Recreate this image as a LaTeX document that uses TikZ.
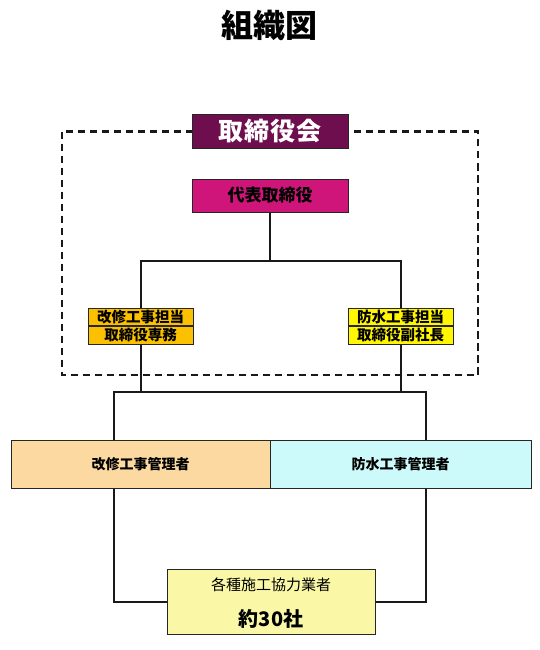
\documentclass[tikz,border=0pt]{standalone}
\usepackage{fontspec}
\setmainfont{Noto Sans CJK JP}
\usetikzlibrary{positioning, backgrounds}
\definecolor{cboard}{HTML}{6E0E4E}
\definecolor{cceo}{HTML}{D0157A}
\definecolor{cgold}{HTML}{FBC000}
\definecolor{cyel}{HTML}{FFF600}
\definecolor{cpeach}{HTML}{FCD9A0}
\definecolor{ccyan}{HTML}{CCFAFA}
\definecolor{cpale}{HTML}{FAF8A6}
\tikzset{
  box/.style={
    draw=black!85, fill=#1, line width=1pt, inner sep=0pt,
    align=center, font=\bfseries
  },
  box/.default=white,
  row/.style={
    box=#1, minimum width=105, minimum height=17.5,
    font=\fontsize{14.5}{15}\selectfont\bfseries
  },
  link/.style={line width=2pt, draw=black!90},
  frame/.style={line width=2.2pt, dash pattern=on 7.5pt off 4.5pt, draw=black!90}
}

\begin{document}
\begin{tikzpicture}[x=1pt, y=-1pt]
  \useasboundingbox (0,0) rectangle (540,650);
  \node[font=\fontsize{32}{34}\selectfont\bfseries] (title) at (269,25) {組織図};
  % board and representative
  \node[box=cboard, text=white, minimum width=156, minimum height=33,
    font=\fontsize{25}{26}\selectfont\bfseries\addfontfeature{LetterSpace=4}] (board) at (270,131.5) {取締役会};
  \node[box=cceo, minimum width=156, minimum height=33,
    font=\fontsize{17}{18}\selectfont\bfseries] (ceo) at (270,195.5) {代表取締役};
  % directors
  \node[row=cgold] (lk1) at (140.5,317) {改修工事担当};
  \node[row=cgold, below=0pt of lk1] (lk2) {取締役専務};
  \node[row=cyel] (rk1) at (400.5,317) {防水工事担当};
  \node[row=cyel, below=0pt of rk1] (rk2) {取締役副社長};
  % managers
  \node[box=cpeach, minimum width=259, minimum height=48,
    font=\fontsize{14}{15}\selectfont\bfseries] (mgl) at (140.5,464) {改修工事管理者};
  \node[box=ccyan, minimum width=261, minimum height=48,
    font=\fontsize{14}{15}\selectfont\bfseries] (mgr) at (400.5,464) {防水工事管理者};
  % partners
  \node[box=cpale, minimum width=208, minimum height=65] (pt) at (271,601.5) {};
  \node[font=\fontsize{15}{16}\selectfont] (pt1) at (271,585) {各種施工協力業者};
  \node[font=\fontsize{20}{21}\selectfont\bfseries] (pt2) at (271,619) {約30社};
  \coordinate (jt) at (270,261);
  \coordinate (ftl) at (114,392);
  \coordinate (ftr) at (426,392);
  \coordinate (dtl) at (62,131.5);
  \coordinate (dbr) at (478,375);
  \begin{scope}[on background layer]
    \draw[frame] (dtl) rectangle (dbr);
    \draw[link] (ceo.south) -- (jt);
    \draw[link] (lk1.north) |- (jt) -| (rk1.north);
    \draw[link] (lk2.south) -- (lk2.south |- ftl);
    \draw[link] (rk2.south) -- (rk2.south |- ftr);
    \draw[link] (pt.west) -| (ftl) -- (ftr) |- (pt.east);
  \end{scope}
\end{tikzpicture}
\end{document}
